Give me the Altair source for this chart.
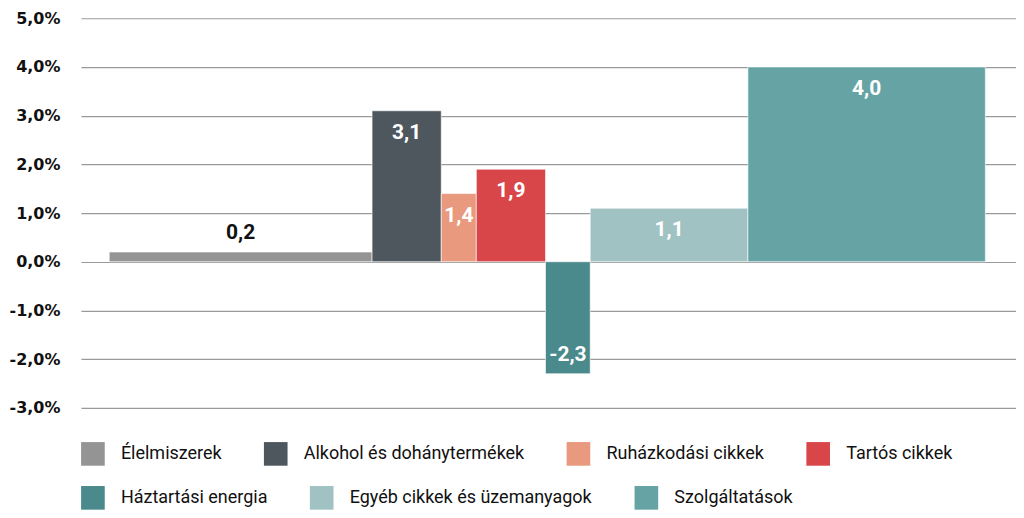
import altair as alt
import pandas as pd

# KSH-style contribution chart: bar width = weight in the basket, height = price change
categories = ['Élelmiszerek', 'Alkohol és dohánytermékek', 'Ruházkodási cikkek', 'Tartós cikkek',
              'Háztartási energia', 'Egyéb cikkek és üzemanyagok', 'Szolgáltatások']
weights = [30.0, 7.9, 4.0, 7.9, 5.1, 18.0, 27.1]
values = [0.2, 3.1, 1.4, 1.9, -2.3, 1.1, 4.0]
colors = ['#949494', '#4f575e', '#e8997e', '#d8464a', '#4a8a8c', '#a0c2c3', '#65a3a4']

df = pd.DataFrame({'category': categories, 'weight': weights, 'value': values})
df['idx'] = range(len(df))
df['x1'] = df['weight'].cumsum()
df['x0'] = df['x1'] - df['weight']
df['mid'] = (df['x0'] + df['x1']) / 2

fmt = "(datum.value < 0 ? '-' : '') + replace(format(abs(datum.value), '.1f'), '.', ',')"

xscale = alt.Scale(domain=[-3.23, 103.5], nice=False, zero=False)
yscale = alt.Scale(domain=[-3, 5], nice=False)

base = alt.Chart(df).transform_calculate(label=fmt)


def legend(y):
    return alt.Legend(title=None, orient='none', legendX=0, legendY=y, direction='horizontal',
                      symbolType='square', symbolSize=560, symbolStrokeWidth=0, symbolOpacity=1,
                      labelOffset=16, columnPadding=42, labelLimit=400, padding=0,
                      labelFont='Roboto', labelFontSize=18, labelColor='#111111')


def bar_layer(lo, hi, y):
    cats = categories[lo:hi]
    return base.transform_filter(f'datum.idx >= {lo} && datum.idx < {hi}').mark_rect(
        stroke='white', strokeWidth=0.6).encode(
        x=alt.X('x0:Q', scale=xscale, axis=None),
        x2='x1:Q',
        y=alt.Y('value:Q', scale=yscale, title=None,
                axis=alt.Axis(values=[-3, -2, -1, 0, 1, 2, 3, 4, 5], grid=True, domain=False, ticks=False,
                              gridColor='#9a9a9a', gridWidth=1.2, labelPadding=21,
                              labelFont='DejaVu Sans', labelFontWeight='bold', labelFontSize=16,
                              labelColor='#111111',
                              labelExpr=fmt + " + '%'")),
        y2=alt.datum(0),
        color=alt.Color('category:N', sort=cats,
                        scale=alt.Scale(domain=cats, range=colors[lo:hi]),
                        legend=legend(y))
    )


bars_top = bar_layer(0, 4, 424)
bars_bottom = bar_layer(4, 7, 468)

text_style = dict(font='Roboto', fontWeight='bold', fontSize=21, baseline='middle', align='center')

inside = base.transform_filter('datum.value >= 1').mark_text(dy=22, color='white', **text_style).encode(
    x=alt.X('mid:Q', scale=xscale), y=alt.Y('value:Q', scale=yscale), text='label:N')
small = base.transform_filter('datum.value >= 0 && datum.value < 1').mark_text(dy=-19, color='#111111', **text_style).encode(
    x=alt.X('mid:Q', scale=xscale), y=alt.Y('value:Q', scale=yscale), text='label:N')
negative = base.transform_filter('datum.value < 0').mark_text(dy=-19, color='white', **text_style).encode(
    x=alt.X('mid:Q', scale=xscale), y=alt.Y('value:Q', scale=yscale), text='label:N')

chart = (bars_top + bars_bottom + inside + small + negative).resolve_scale(
    color='independent'
).properties(
    width=936, height=390,
    autosize=alt.AutoSizeParams(type='none'),
    padding={'left': 73, 'top': 10, 'right': 0, 'bottom': 104},
).configure_view(strokeWidth=0)

chart.save("out.html", embed_options={"renderer": "svg", "actions": False})
